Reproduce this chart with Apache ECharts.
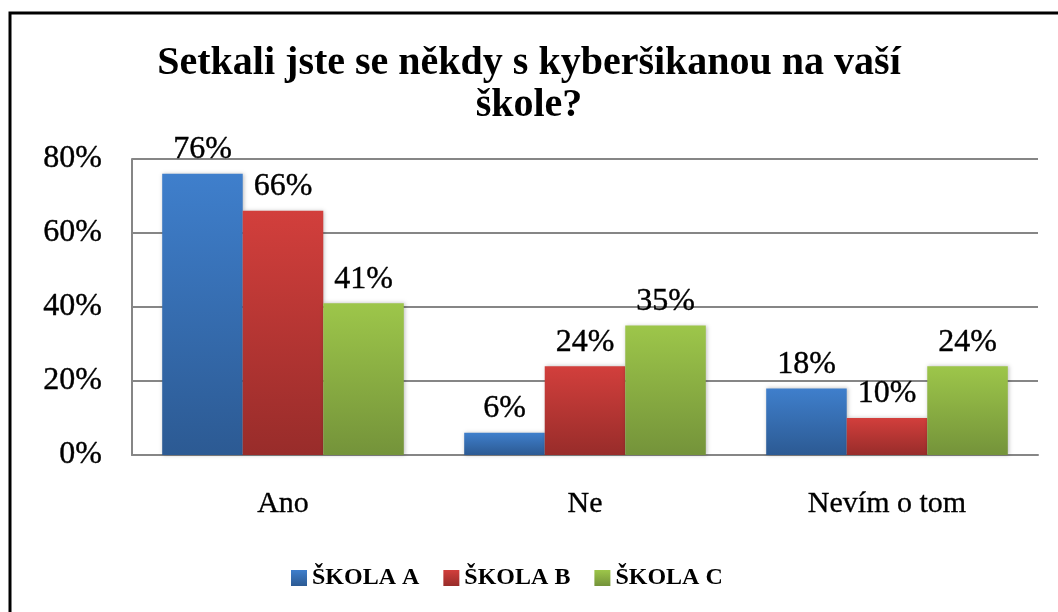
<!DOCTYPE html>
<html>
<head>
<meta charset="utf-8">
<script src="https://cdn.jsdelivr.net/npm/echarts@6/dist/echarts.min.js"></script>
<style>
  html, body { margin: 0; padding: 0; background: #fff; }
  #chart { width: 1058px; height: 612px; }
</style>
</head>
<body>
<div id="chart"></div>
<script>
// odpovedi a hodnoty (v %)
var categories = ['Ano', 'Ne', 'Nevím o tom']
var skolaA = [76, 6, 18]
var skolaB = [66, 24, 10]
var skolaC = [41, 35, 24]
var seriesNames = ['ŠKOLA A', 'ŠKOLA B', 'ŠKOLA C']
var yTicks = [0, 20, 40, 60, 80]

var font = 'Liberation Serif'

function grad(top, bottom) {
  return new echarts.graphic.LinearGradient(0, 0, 0, 1, [
    { offset: 0, color: top },
    { offset: 1, color: bottom }
  ])
}

function makeSeries(name, data, top, bottom) {
  return {
    name: name,
    type: 'bar',
    data: data,
    barGap: '0%',
    barCategoryGap: '20%',
    itemStyle: {
      color: grad(top, bottom),
      shadowColor: 'rgba(0,0,0,0.25)',
      shadowBlur: 4,
      shadowOffsetX: 1
    },
    label: {
      show: true,
      position: 'top',
      distance: 8,
      formatter: '{c}%',
      fontFamily: font,
      fontSize: 32,
      color: '#000',
      textBorderColor: '#000',
      textBorderWidth: 0.4
    }
  }
}

var myChart = echarts.init(document.getElementById('chart'))
myChart.setOption({
  animation: false,
  title: {
    text: 'Setkali jste se někdy s kyberšikanou na vaší\nškole?',
    left: 'center',
    top: 38,
    textStyle: {
      fontFamily: font,
      fontWeight: 'bold',
      fontSize: 40,
      lineHeight: 42,
      color: '#000'
    }
  },
  graphic: [{
    type: 'rect',
    shape: { x: 10, y: 13, width: 1200, height: 800 },
    style: { fill: 'none', stroke: '#000', lineWidth: 3 }
  }],
  legend: {
    bottom: 17,
    left: 286,
    itemWidth: 16,
    itemHeight: 16,
    itemGap: 24,
    icon: 'rect',
    data: seriesNames,
    textStyle: {
      fontFamily: font,
      fontWeight: 'bold',
      fontSize: 24,
      color: '#000'
    }
  },
  grid: {
    left: 132,
    right: 20,
    top: 159,
    bottom: 157
  },
  xAxis: {
    type: 'category',
    data: categories,
    axisLine: { lineStyle: { color: '#868686', width: 2 } },
    axisTick: { show: false },
    axisLabel: {
      margin: 34,
      fontFamily: font,
      fontSize: 30,
      color: '#000',
      textBorderColor: '#000',
      textBorderWidth: 0.3
    }
  },
  yAxis: {
    type: 'value',
    min: yTicks[0],
    max: yTicks[yTicks.length - 1],
    interval: 20,
    axisLine: { show: true, lineStyle: { color: '#868686', width: 2 } },
    axisTick: { show: false },
    splitLine: { lineStyle: { color: '#868686', width: 2 } },
    axisLabel: {
      margin: 30,
      formatter: '{value}%',
      fontFamily: font,
      fontSize: 32,
      color: '#000',
      textBorderColor: '#000',
      textBorderWidth: 0.4
    }
  },
  series: [
    makeSeries(seriesNames[0], skolaA, '#3f7fcc', '#2c5a93'),
    makeSeries(seriesNames[1], skolaB, '#d23f3c', '#982c2a'),
    makeSeries(seriesNames[2], skolaC, '#9dc64a', '#74933a')
  ]
})
</script>
</body>
</html>
